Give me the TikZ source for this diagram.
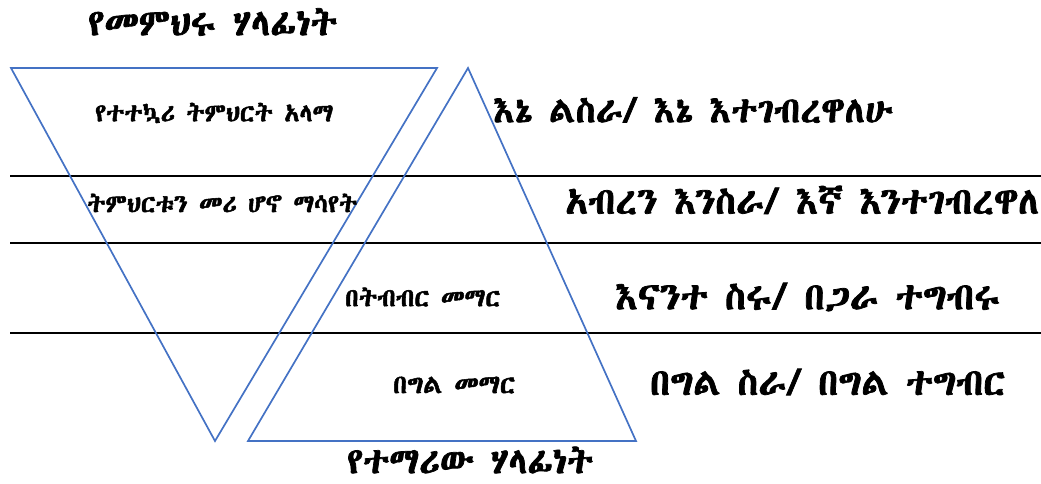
\documentclass[tikz,border=0pt]{standalone}
\usepackage{fontspec}
\IfFontExistsTF{Abyssinica SIL}{%
  \newfontfamily\eth{Abyssinica SIL}[FakeBold=2]}{%
  \IfFontExistsTF{FreeSerif}{%
    \newfontfamily\eth{FreeSerif}[FakeBold=2]}{%
    \newfontfamily\eth{DejaVu Sans}[FakeBold=1]}}
\usepackage{graphicx}
\definecolor{triblue}{RGB}{68,114,196}
\newcommand{\fitw}[2]{\resizebox{#1pt}{!}{#2}}
\begin{document}
\begin{tikzpicture}[x=1pt,y=-1pt,
  tri/.style={draw=triblue,line width=1.7pt,line join=miter},
  band/.style={draw=black,line width=1.3pt},
  lbl/.style={inner sep=0pt,anchor=west,font=\eth}]
\useasboundingbox (0,0) rectangle (1041,483);
% inverted triangle (teacher)
\coordinate (tl) at (11,68);
\coordinate (tr) at (437,68);
\coordinate (tb) at (215,441);
% upright triangle (student)
\coordinate (sa) at (468,68);
\coordinate (sl) at (248,441);
\coordinate (sr) at (636,441);
% band lines
\coordinate (l1a) at (10,176); \coordinate (l1b) at (1041,176);
\coordinate (l2a) at (10,243); \coordinate (l2b) at (1041,243);
\coordinate (l3a) at (10,333); \coordinate (l3b) at (1041,333);
\draw[band] (l1a) -- (l1b);
\draw[band] (l2a) -- (l2b);
\draw[band] (l3a) -- (l3b);
\draw[tri] (tl) -- (tr) -- (tb) -- cycle;
\draw[tri] (sa) -- (sr) -- (sl) -- cycle;
% labels
\node[lbl] (t1) at (88,22) {\fitw{249}{የመምህሩ ሃላፊነት}};
\node[lbl] (i1) at (95,113) {\fitw{238}{የተተኳሪ ትምህርት አላማ}};
\node[lbl] (i2) at (87,203) {\fitw{270}{ትምህርቱን መሪ ሆኖ ማሳየት}};
\node[lbl] (r1) at (493,110) {\fitw{400}{እኔ ልስራ/ እኔ እተገብረዋለሁ}};
\node[lbl] (r2) at (565,200) {\fitw{474}{አብረን እንስራ/ እኛ እንተገብረዋለ}};
\node[lbl] (i3) at (345,297) {\fitw{155}{በትብብር መማር}};
\node[lbl] (r3) at (615,297) {\fitw{385}{እናንተ ስሩ/ በጋራ ተግብሩ}};
\node[lbl] (i4) at (393,385) {\fitw{122}{በግል መማር}};
\node[lbl] (r4) at (650,382) {\fitw{355}{በግል ስራ/ በግል ተግብር}};
\node[lbl] (t2) at (347,460) {\fitw{246}{የተማሪው ሃላፊነት}};
\end{tikzpicture}
\end{document}
